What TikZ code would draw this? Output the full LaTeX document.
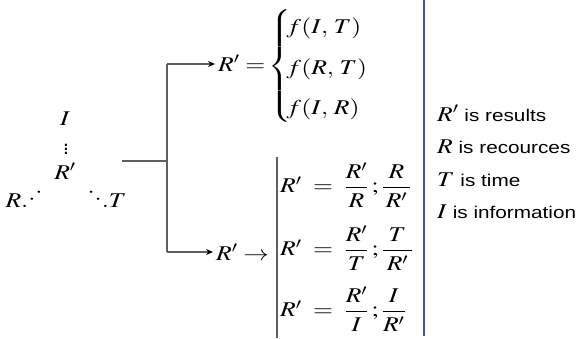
\documentclass[tikz,border=0pt]{standalone}
\usepackage{amsmath}
\usepackage{mathptmx}
\usepackage{graphicx}
\usepackage{fontspec}
\setmainfont{Liberation Sans}
\usetikzlibrary{arrows.meta}
\definecolor{gline}{RGB}{95,95,95}
\definecolor{bline}{RGB}{80,80,175}
\newcommand\sx[1]{\scalebox{1.22}[1]{#1}}
\tikzset{
  mth/.style={inner sep=0pt, font=\fontsize{21}{25}\selectfont},
  leg/.style={inner sep=0pt, anchor=base west, font=\fontsize{17}{21}\selectfont},
  conn/.style={draw=gline, line width=1.3pt},
  arr/.style={conn, shorten >=3pt, -{Stealth[length=7pt,width=6pt,color=black]}}
}
\begin{document}
\begin{tikzpicture}[x=1pt,y=-1pt]
\useasboundingbox (0,0) rectangle (577,338);
% left triangle
\node[mth] (I) at (65,119) {\sx{$I$}};
\node[mth] (vd) at (66,154) {\smash{$\vdots$}};
\node[mth] (Rp) at (65,171) {\sx{$R'$}};
\node[mth] (RL) at (24,198) {\sx{$R.\raisebox{0.3ex}{$\cdot$}\raisebox{0.9ex}{$\cdot$}$}};
\node[mth] (TR) at (107,198) {\sx{$\raisebox{0.9ex}{$\cdot$}\raisebox{0.3ex}{$\cdot$}.T$}};
% bracket
\coordinate (h0) at (122,161);
\coordinate (hm) at (167,161);
\coordinate (ht) at (167,64);
\coordinate (hb) at (167,252);
% top
\node[mth, anchor=west] (top) at (218,66) {\sx{$R' = \mkern-2mu\smash{\left\{\rule[-48pt]{0pt}{106pt}\right.}\mkern-4mu\renewcommand{\arraystretch}{1.62}\begin{array}{@{}l@{}} f(I,\,T)\\ f(R,\,T)\\ f(I,\,R)\end{array}$}};
% bottom
\node[mth, anchor=west] (bot) at (216,252) {\sx{$R' \rightarrow$}};
\coordinate (gt) at (277,157);
\coordinate (gb) at (277,338);
\node[mth, anchor=west] (r1) at (280,185) {\sx{$R' \;=\; \dfrac{R'}{R}\,;\dfrac{\;R\;}{R'}$}};
\node[mth, anchor=west] (r2) at (280,248) {\sx{$R' \;=\; \dfrac{R'}{T}\,;\dfrac{\;T\;}{R'}$}};
\node[mth, anchor=west] (r3) at (280,309) {\sx{$R' \;=\; \dfrac{R'}{I}\,;\dfrac{\;I\;}{R'}$}};
% blue separator
\coordinate (bt) at (424,0);
\coordinate (bb) at (424,336);
% legend
\node[leg] (l1) at (437,121) {\sx{{\fontsize{21}{25}\selectfont$R'$} is results}};
\node[leg] (l2) at (437,153) {\sx{{\fontsize{21}{25}\selectfont$R$} is recources}};
\node[leg] (l3) at (437,186) {\sx{{\fontsize{21}{25}\selectfont$T$} is time}};
\node[leg] (l4) at (437,218) {\sx{{\fontsize{21}{25}\selectfont$I$} is information}};
% connectors
\draw[conn] (h0) -- (hm);
\draw[conn] (hb) -- (ht);
\draw[arr] (ht) -- (ht -| top.west);
\draw[arr] (hb) -- (hb -| bot.west);
\draw[draw=gline, line width=1.3pt] (gt) -- (gb);
\draw[draw=bline, line width=1.2pt] (bt) -- (bb);
\end{tikzpicture}
\end{document}
